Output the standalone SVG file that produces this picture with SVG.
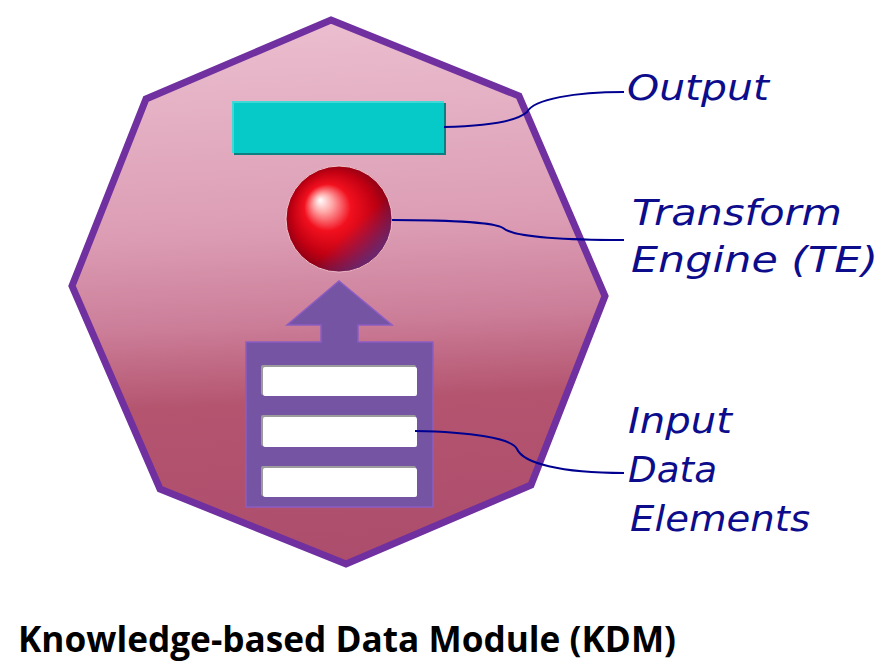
<svg xmlns="http://www.w3.org/2000/svg" width="888" height="668" viewBox="0 0 888 668">
<defs>
<style>
.lbl{font-family:"DejaVu Sans","Liberation Sans",sans-serif;font-style:italic;font-size:35px;fill:#0d0d8c;}
.title{font-family:"Open Sans","Liberation Sans",sans-serif;font-weight:bold;font-size:35px;fill:#000;}
.conn{fill:none;stroke:#000090;stroke-width:2;}
.bar{fill:#ffffff;}
.barsh{fill:#9c9c9c;}
</style>
<linearGradient id="octFill" gradientUnits="userSpaceOnUse" x1="320" y1="20" x2="345" y2="565">
<stop offset="0" stop-color="#ebbecf"/>
<stop offset="0.38" stop-color="#dc9db4"/>
<stop offset="0.55" stop-color="#cc7e99"/>
<stop offset="0.7" stop-color="#b4546f"/>
<stop offset="1" stop-color="#ac4d6d"/>
</linearGradient>
<radialGradient id="sphere" cx="0.5" cy="0.5" r="0.55" fx="0.32" fy="0.32">
<stop offset="0" stop-color="#ffffff"/>
<stop offset="0.16" stop-color="#ffa8a8"/>
<stop offset="0.4" stop-color="#f2101e"/>
<stop offset="0.72" stop-color="#c00012"/>
<stop offset="1" stop-color="#7a0018"/>
</radialGradient>
<linearGradient id="sphereRim" x1="0.2" y1="0.2" x2="0.85" y2="0.9">
<stop offset="0.6" stop-color="#5a3a9a" stop-opacity="0"/>
<stop offset="1" stop-color="#5a3a9a" stop-opacity="0.75"/>
</linearGradient>
</defs>
<rect width="888" height="668" fill="#ffffff"/>
<g id="kdm-module">
<polygon points="331,20 519,96 605,296 531,485 346,564 160,489 72,286 146,99" fill="url(#octFill)" stroke="#7030a0" stroke-width="7"/>
</g>
<g id="output">
<rect x="234" y="103" width="212" height="52" fill="#0e7f80"/>
<rect x="232" y="101" width="212" height="52" fill="#40d8d6"/>
<rect x="234" y="103" width="210" height="50" fill="#05cac8"/>
</g>
<g id="transform-engine">
<circle cx="339" cy="219" r="53" fill="url(#sphere)" stroke="#f2c4cc" stroke-width="1"/>
<circle cx="339" cy="219" r="52.5" fill="url(#sphereRim)"/>
</g>
<g id="input-data-elements">
<path d="M246,342 H321 V325 H287 L339,281 L392,325 H358 V342 H433 V507 H246 Z" fill="#7454a3" stroke="#8c5cc4" stroke-width="1.5"/>
<rect class="barsh" x="261" y="365" width="155" height="30" rx="2"/>
<rect class="bar" x="263" y="367" width="154" height="29" rx="2"/>
<rect class="barsh" x="261" y="415" width="155" height="31" rx="2"/>
<rect class="bar" x="263" y="417" width="154" height="30" rx="2"/>
<rect class="barsh" x="261" y="466" width="155" height="30" rx="2"/>
<rect class="bar" x="263" y="468" width="154" height="29" rx="2"/>
</g>
<g id="connectors">
<path class="conn" d="M444,127 C492,126 518,120 527,112 C534,99 575,92 624,92"/>
<path class="conn" d="M392,220 C440,220 494,222 503,228 C511,235 540,240 624,240"/>
<path class="conn" d="M415,431 C470,432 512,438 517,449 C523,463 560,473 624,473"/>
</g>
<g id="label-output">
<text class="lbl" x="627" y="100" textLength="142" lengthAdjust="spacingAndGlyphs">Output</text>
</g>
<g id="label-te">
<text class="lbl" x="632" y="225" textLength="210" lengthAdjust="spacingAndGlyphs">Transform</text>
<text class="lbl" x="631" y="272" textLength="247" lengthAdjust="spacingAndGlyphs">Engine (TE)</text>
</g>
<g id="label-input">
<text class="lbl" x="628" y="433" textLength="104" lengthAdjust="spacingAndGlyphs">Input</text>
<text class="lbl" x="628" y="482" textLength="89" lengthAdjust="spacingAndGlyphs">Data</text>
<text class="lbl" x="630" y="531" textLength="180" lengthAdjust="spacingAndGlyphs">Elements</text>
</g>
<g id="title">
<text class="title" x="18" y="652" textLength="658" lengthAdjust="spacingAndGlyphs">Knowledge-based Data Module (KDM)</text>
</g>
</svg>
